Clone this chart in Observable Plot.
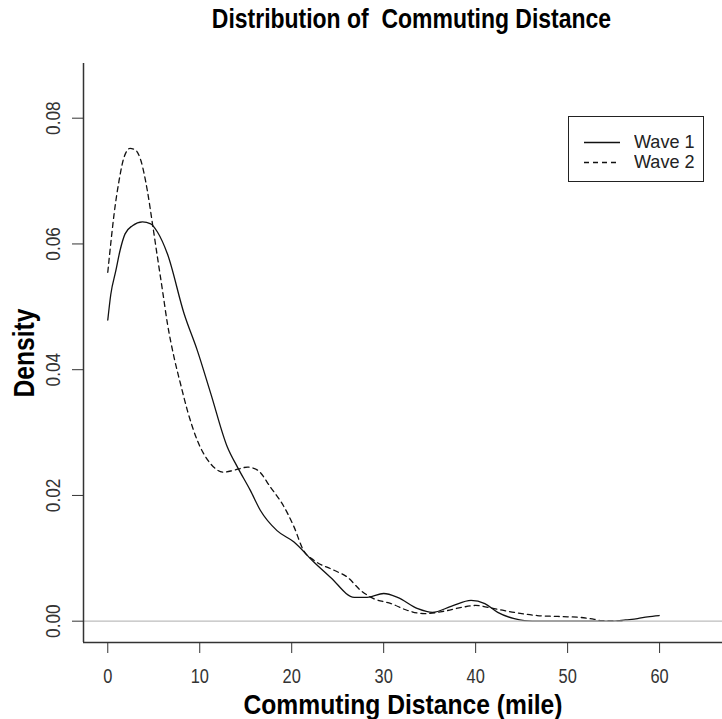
<!DOCTYPE html>
<html><head><meta charset="utf-8">
<script src="https://cdn.jsdelivr.net/npm/d3@7"></script>
<script src="https://cdn.jsdelivr.net/npm/@observablehq/plot@0.6"></script>
<style>
body{margin:0;background:#fff;font-family:"Liberation Sans",Arial,sans-serif;}
#wrap{position:relative;width:722px;height:719px;overflow:hidden;background:#fff}
#title{height:40px;margin-left:83px;width:656px;text-align:center;font-weight:bold;font-size:28px;line-height:37px;white-space:pre;color:#000;overflow:visible}
#title span{display:inline-block;transform:scaleX(0.82);transform-origin:50% 50%}
#legend{position:absolute;left:568px;top:116px;width:136px;height:66px;border:1px solid #222;background:#fff;box-sizing:border-box}
#legend .row{position:absolute;left:0;height:20px;font-size:19px;color:#222;line-height:20px}
#legend svg{position:absolute;left:15px;top:0}
#legend span{position:absolute;left:65px;top:0;white-space:nowrap;transform:scaleX(0.95);transform-origin:0 50%}
</style></head><body>
<div id="wrap"><div id="title"><span></span></div><div id="chart"></div><div id="legend"></div></div>
<script>
// ---- data ----
const titleText = "Distribution of  Commuting Distance";
const xLabel = "Commuting Distance (mile)";
const yLabel = "Density";
const seriesNames = ["Wave 1", "Wave 2"];
const xTicks = [0, 10, 20, 30, 40, 50, 60];
const yTicks = [0, 0.02, 0.04, 0.06, 0.08];
const xDomain = [-2.64, 66.84];
const yDomain = [-0.00339, 0.0887];

const wave1X = [0, 0.33, 0.87, 1.34, 1.88, 2.68, 3.77, 4.67, 5.4, 6.49, 8.3, 9.75, 11.2, 13.0, 14.1, 15.5, 16.6, 18.4, 20.25, 22.4, 24.2, 26.8, 28.2, 30.0, 31.5, 33.7, 35.3, 37.4, 39.5, 41.0, 42.4, 44.2, 45.3, 47, 50, 53, 55, 56.3, 57.6, 58.7, 59.95];
const wave1Y = [0.0479, 0.0520, 0.0557, 0.0590, 0.0616, 0.0629, 0.0635, 0.0632, 0.0619, 0.0584, 0.0489, 0.0430, 0.0362, 0.0277, 0.0245, 0.0208, 0.0176, 0.0144, 0.0126, 0.0094, 0.0070, 0.0038, 0.0038, 0.0044, 0.0038, 0.0020, 0.0014, 0.0024, 0.0033, 0.0028, 0.0014, 0.0004, 0.0001, 0, 0, 0, 0, 0.0002, 0.0004, 0.0007, 0.0009];

const wave2X = [0, 0.4, 0.69, 1.23, 1.77, 2.42, 3.04, 3.59, 4.3, 4.86, 5.4, 5.95, 6.49, 7.2, 7.9, 8.66, 9.75, 11.2, 12.6, 13.7, 15.2, 16.3, 17.7, 19.2, 20.25, 21.3, 22.4, 24.6, 26.05, 27.5, 28.9, 30.8, 32.6, 34.4, 36.6, 38.5, 40.0, 42.0, 44.2, 46.7, 50.0, 51.4, 52.9, 53.6, 56];
const wave2Y = [0.0555, 0.0611, 0.0648, 0.0701, 0.0738, 0.0752, 0.0749, 0.0733, 0.0685, 0.0632, 0.0579, 0.0526, 0.0473, 0.0420, 0.0378, 0.0335, 0.0287, 0.0250, 0.0237, 0.0240, 0.0245, 0.0240, 0.0213, 0.0181, 0.0150, 0.0112, 0.0097, 0.0081, 0.0070, 0.0049, 0.0036, 0.0028, 0.0017, 0.0012, 0.0016, 0.0022, 0.0025, 0.0020, 0.0014, 0.0009, 0.0007, 0.0006, 0.0003, 0.0001, 0];

const wave1 = wave1X.map((x, i) => ({x, y: wave1Y[i]}));
const wave2 = wave2X.map((x, i) => ({x, y: wave2Y[i]}));

const lineColor = "#111";
const dash = "5,4";
const narrow = 0.82; // the reference uses a condensed sans face

document.querySelector("#title span").textContent = titleText;

const chart = Plot.plot({
  width: 722,
  height: 679,
  marginTop: 23,
  marginBottom: 77,
  marginLeft: 83,
  marginRight: 0,
  x: {domain: xDomain},
  y: {domain: yDomain},
  style: {fontFamily: "'Liberation Sans', Arial, sans-serif", background: "white", color: "#222"},
  marks: [
    Plot.line(wave1, {x: "x", y: "y", stroke: lineColor, strokeWidth: 1.3, curve: "monotone-x"}),
    Plot.line(wave2, {x: "x", y: "y", stroke: lineColor, strokeWidth: 1.3, strokeDasharray: dash, curve: "monotone-x"}),
    Plot.ruleY([0], {stroke: "#bdbdbd", strokeWidth: 1.3}),
    Plot.ruleX([xDomain[0]], {stroke: "#333", strokeWidth: 1.5}),
    Plot.ruleY([yDomain[0]], {stroke: "#333", strokeWidth: 1.5}),
    Plot.axisX(xTicks, {tickSize: 11, tickPadding: 15, fontSize: 20, label: null, stroke: "#333", fill: "#333"}),
    Plot.axisY(yTicks, {tickSize: 11, text: null, label: null, stroke: "#333"}),
    Plot.text(yTicks, {y: d => d, text: d => d.toFixed(2), frameAnchor: "left", dx: -24, rotate: -90, textAnchor: "middle", lineAnchor: "bottom", fontSize: 21, fill: "#333"}),
    Plot.text([yLabel], {frameAnchor: "left", dx: -50, rotate: -90, textAnchor: "middle", lineAnchor: "bottom", fontSize: 30, fontWeight: "bold", fill: "#000"}),
    Plot.text([xLabel], {frameAnchor: "bottom", dy: 63, textAnchor: "middle", lineAnchor: "middle", fontSize: 28, fontWeight: "bold", fill: "#000"})
  ]
});
document.getElementById("chart").appendChild(chart);

// condense all chart text to the reference's narrow face
d3.select(chart).selectAll("text").each(function () {
  const L = this.getComputedTextLength();
  if (L > 0) {
    const k = this.textContent === xLabel ? 0.88 : narrow;
    this.setAttribute("textLength", (L * k).toFixed(2));
    this.setAttribute("lengthAdjust", "spacingAndGlyphs");
  }
});

// legend
const lg = document.getElementById("legend");
seriesNames.forEach((name, i) => {
  const row = document.createElement("div");
  row.className = "row";
  row.style.top = (15 + i * 20) + "px";
  row.style.width = "136px";
  row.innerHTML = `<svg width="40" height="20"><line x1="0" x2="36" y1="10.5" y2="10.5" stroke="${lineColor}" stroke-width="1.3" ${i === 1 ? `stroke-dasharray="${dash}"` : ""}/></svg><span>${name}</span>`;
  lg.appendChild(row);
});
</script>
</body></html>
